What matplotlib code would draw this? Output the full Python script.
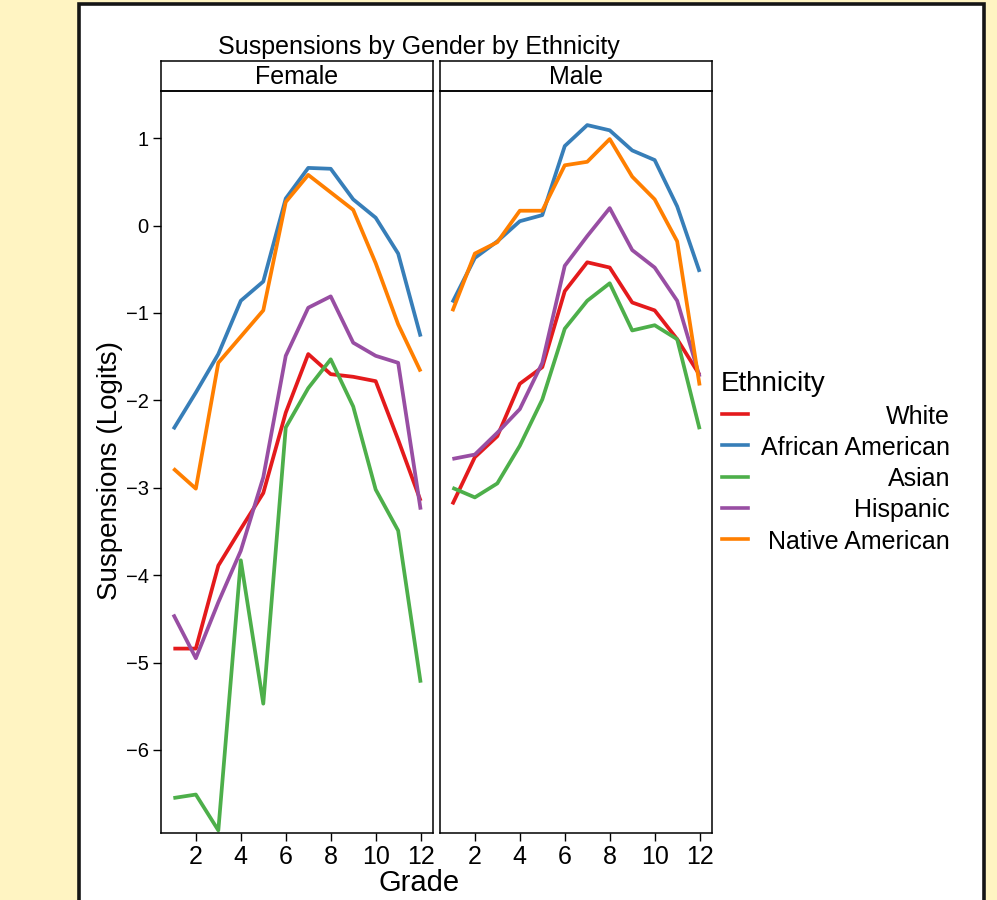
import numpy as np
import matplotlib.pyplot as plt
from matplotlib.patches import Rectangle
from matplotlib.lines import Line2D

plt.rcParams['font.family'] = ['Liberation Sans', 'DejaVu Sans']

grades = np.arange(1, 13)
ethnicities = ["White", "African American", "Asian", "Hispanic", "Native American"]
colors = ["#E41A1C", "#377EB8", "#4DAF4A", "#984EA3", "#FF7F00"]

# Female, logits by grade 1..12
female_white = [-4.84, -4.84, -3.89, -3.47, -3.06, -2.14, -1.47, -1.70, -1.73, -1.78, -2.45, -3.15]
female_afam = [-2.33, -1.91, -1.47, -0.86, -0.64, 0.31, 0.66, 0.65, 0.30, 0.09, -0.32, -1.27]
female_asian = [-6.55, -6.51, -6.92, -3.83, -5.47, -2.31, -1.86, -1.53, -2.07, -3.02, -3.49, -5.23]
female_hisp = [-4.45, -4.95, -4.31, -3.72, -2.88, -1.49, -0.94, -0.81, -1.34, -1.49, -1.57, -3.25]
female_native = [-2.78, -3.01, -1.57, -1.27, -0.97, 0.27, 0.58, 0.38, 0.18, -0.43, -1.13, -1.67]

# Male
male_white = [-3.19, -2.65, -2.41, -1.81, -1.62, -0.75, -0.42, -0.48, -0.88, -0.97, -1.30, -1.71]
male_afam = [-0.88, -0.37, -0.18, 0.05, 0.12, 0.91, 1.15, 1.09, 0.86, 0.75, 0.22, -0.53]
male_asian = [-3.00, -3.11, -2.95, -2.52, -1.99, -1.18, -0.86, -0.66, -1.20, -1.14, -1.30, -2.33]
male_hisp = [-2.67, -2.62, -2.37, -2.10, -1.57, -0.46, -0.12, 0.20, -0.28, -0.48, -0.86, -1.73]
male_native = [-0.98, -0.32, -0.19, 0.17, 0.17, 0.69, 0.73, 0.99, 0.56, 0.30, -0.18, -1.83]

panels = [
    ("Female", [female_white, female_afam, female_asian, female_hisp, female_native]),
    ("Male", [male_white, male_afam, male_asian, male_hisp, male_native]),
]

W, H = 997, 900
fig = plt.figure(figsize=(W / 100, H / 100), dpi=100, facecolor="#FFF4C2")

# white framed box, behind everything
fig.add_artist(Rectangle((79 / W, -0.05), (984 - 79) / W, 1.05 - 4 / H,
                         transform=fig.transFigure, facecolor="white",
                         edgecolor="#151515", linewidth=2.6, zorder=-10))

lefts = [161, 440]
pw = 272
bottom, top = 833, 91
for i, (name, series) in enumerate(panels):
    x0 = lefts[i]
    ax = fig.add_axes([x0 / W, 1 - bottom / H, pw / W, (bottom - top) / H])
    ax.patch.set_alpha(0)
    for s, c in zip(series, colors):
        ax.plot(grades, s, color=c, lw=2.7, solid_capstyle="butt")
    ax.set_xlim(0.45, 12.55)
    ax.set_ylim(-6.95, 1.54)
    ax.set_xticks(range(2, 13, 2))
    ax.tick_params(axis="x", labelsize=18, length=6, width=1, pad=3)
    if i == 0:
        ax.set_yticks(range(-6, 2))
        ax.tick_params(axis="y", labelsize=14.5, length=6, width=1, pad=3)
    else:
        ax.set_yticks([])
    for sp in ax.spines.values():
        sp.set_linewidth(1.1)

    sax = fig.add_axes([x0 / W, 1 - top / H, pw / W, 30 / H])
    sax.patch.set_alpha(0)
    sax.set_xticks([])
    sax.set_yticks([])
    for sp in sax.spines.values():
        sp.set_linewidth(1.1)
    sax.text(0.5, 0.23, name, ha="center", va="baseline", fontsize=18,
             transform=sax.transAxes)

fig.text(419 / W, 1 - 54 / H, "Suspensions by Gender by Ethnicity",
         ha="center", va="baseline", fontsize=18)
fig.text(419 / W, 1 - 891 / H, "Grade", ha="center", va="baseline", fontsize=21)
fig.text(110 / W, 1 - 471 / H, "Suspensions (Logits)", rotation=90,
         ha="center", va="center", fontsize=20)

# legend
fig.text(721 / W, 1 - 391 / H, "Ethnicity", ha="left", va="baseline", fontsize=20)
for k, (lab, c) in enumerate(zip(ethnicities, colors)):
    yk = 414 + 31.3 * k
    fig.add_artist(Line2D([722 / W, 748 / W], [1 - yk / H, 1 - yk / H],
                          color=c, lw=2.6, transform=fig.transFigure))
    fig.text(950 / W, 1 - (yk + 9.5) / H, lab, ha="right", va="baseline",
             fontsize=18)

fig.savefig("out.png", dpi=100, facecolor=fig.get_facecolor())
